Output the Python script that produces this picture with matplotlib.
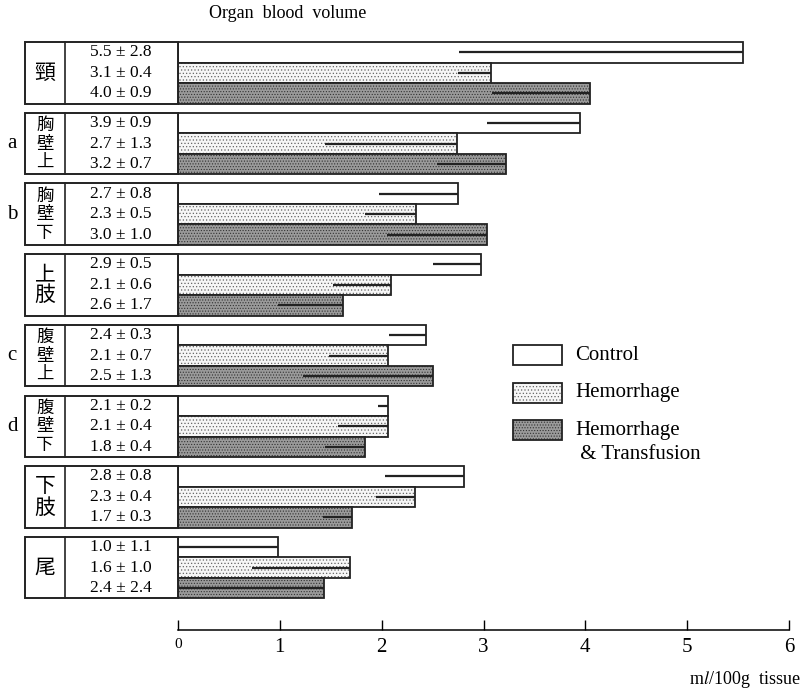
import matplotlib
matplotlib.use("Agg")
import matplotlib.pyplot as plt
from matplotlib.patches import Rectangle

# --- data ---
organs = ["頸", "胸壁上", "胸壁下", "上肢", "腹壁上", "腹壁下", "下肢", "尾"]
side_marks = ["", "a", "b", "", "c", "d", "", ""]
series = ["Control", "Hemorrhage", "Hemorrhage\n & Transfusion"]

# mean ± SD as printed in the table
mean_txt = [[5.5, 3.1, 4.0], [3.9, 2.7, 3.2], [2.7, 2.3, 3.0], [2.9, 2.1, 2.6],
            [2.4, 2.1, 2.5], [2.1, 2.1, 1.8], [2.8, 2.3, 1.7], [1.0, 1.6, 2.4]]
sd_txt = [[2.8, 0.4, 0.9], [0.9, 1.3, 0.7], [0.8, 0.5, 1.0], [0.5, 0.6, 1.7],
          [0.3, 0.7, 1.3], [0.2, 0.4, 0.4], [0.8, 0.4, 0.3], [1.1, 1.0, 2.4]]

# bar lengths and left ends of the SD lines
control = [5.55, 3.95, 2.75, 2.98, 2.44, 2.06, 2.81, 0.98]
hemorrhage = [3.07, 2.74, 2.34, 2.09, 2.06, 2.06, 2.33, 1.69]
transfusion = [4.05, 3.22, 3.03, 1.62, 2.50, 1.84, 1.71, 1.43]
control_lo = [2.76, 3.03, 1.97, 2.50, 2.07, 1.96, 2.03, 0.0]
hemorrhage_lo = [2.75, 1.44, 1.84, 1.52, 1.48, 1.57, 1.94, 0.73]
transfusion_lo = [3.08, 2.54, 2.05, 0.98, 1.23, 1.44, 1.42, 0.0]

serif = "Liberation Serif"
cjk = "Noto Sans CJK JP"
plt.rcParams["font.family"] = [serif, "DejaVu Sans"]
plt.rcParams["mathtext.fontset"] = "stix"
plt.rcParams["hatch.linewidth"] = 0.5

W, H = 802, 693
fig = plt.figure(figsize=(W / 100, H / 100), dpi=100)

ytop = -0.1
ybot = (630 - 42) / 70.7
ax_h = (630 - 35) / H
ax = fig.add_axes([178 / W, 1 - 630 / H, (789 - 178) / W, ax_h])
tab = fig.add_axes([0, 1 - 630 / H, 178 / W, ax_h])

bar_h = 0.29
grp_h = 3 * bar_h
edge = "#222222"
# fill colour, dot colour, hatch
fills = [("white", "white", None),
         ("#f6f6f6", "#666666", "....."),
         ("#9a9a9a", "#333333", "......")]
vals = [control, hemorrhage, transfusion]
los = [control_lo, hemorrhage_lo, transfusion_lo]

for j in range(3):
    ys = [i + bar_h / 2 + j * bar_h for i in range(len(organs))]
    fc, hc, hatch = fills[j]
    ax.barh(ys, vals[j], height=bar_h, color=fc, edgecolor=hc, hatch=hatch, linewidth=0)
    ax.barh(ys, vals[j], height=bar_h, fill=False, edgecolor=edge, linewidth=1.3)
    ax.hlines(ys, los[j], vals[j], color=edge, linewidth=1.6)

ax.set_xlim(0, 6)
ax.set_ylim(ybot, ytop)
for s in ["left", "top", "right"]:
    ax.spines[s].set_visible(False)
ax.spines["bottom"].set_bounds(0, 6)
ax.spines["bottom"].set_linewidth(1.1)
ax.set_yticks([])
ax.set_xticks(range(7))
ax.set_xticklabels([str(t) for t in range(7)], fontsize=15)
ax.get_xticklabels()[0].set_fontsize(11)
ax.tick_params(axis="x", direction="in", length=7, width=1, pad=6)

# table on the left
tab.set_xlim(0, 178)
tab.set_ylim(ybot, ytop)
tab.axis("off")
for i, organ in enumerate(organs):
    tab.add_patch(Rectangle((25, i), 153, grp_h, fill=False, lw=1.4,
                            edgecolor=edge, clip_on=False))
    tab.plot([65, 65], [i, i + grp_h], color=edge, lw=1.2)
    n = len(organ)
    tab.text(45, i + grp_h / 2, "\n".join(organ), family=[cjk],
             fontsize=15 if n < 3 else 12.5, ha="center", va="center",
             linespacing=0.95 if n < 3 else 1.05)
    for j in range(3):
        tab.text(121, i + bar_h / 2 + j * bar_h,
                 f"{mean_txt[i][j]:.1f} ± {sd_txt[i][j]:.1f}",
                 fontsize=12.5, ha="center", va="center")
    if side_marks[i]:
        tab.text(12, i + grp_h / 2, side_marks[i], fontsize=15,
                 ha="center", va="center")

fig.text(288 / W, 1 - 14 / H, "Organ  blood  volume", fontsize=13,
         ha="center", va="center")
fig.text(800 / W, 1 - 679 / H, "m$\\mathit{l}$/100g  tissue", fontsize=13,
         ha="right", va="center")

# legend
leg_y = [345, 383, 420]
for j, lab in enumerate(series):
    fc, hc, hatch = fills[j]
    box = (513 / W, 1 - (leg_y[j] + 20) / H)
    fig.add_artist(Rectangle(box, 49 / W, 20 / H, transform=fig.transFigure,
                             facecolor=fc, edgecolor=hc, hatch=hatch, lw=0))
    fig.add_artist(Rectangle(box, 49 / W, 20 / H, transform=fig.transFigure,
                             fill=False, edgecolor=edge, lw=1.3))
    if "\n" in lab:
        fig.text(575 / W, 1 - (leg_y[j] + 1) / H, lab, fontsize=15,
                 ha="left", va="top", linespacing=1.35)
    else:
        fig.text(575 / W, 1 - (leg_y[j] + 10) / H, lab, fontsize=15,
                 ha="left", va="center")

fig.savefig("out.png", dpi=100)
